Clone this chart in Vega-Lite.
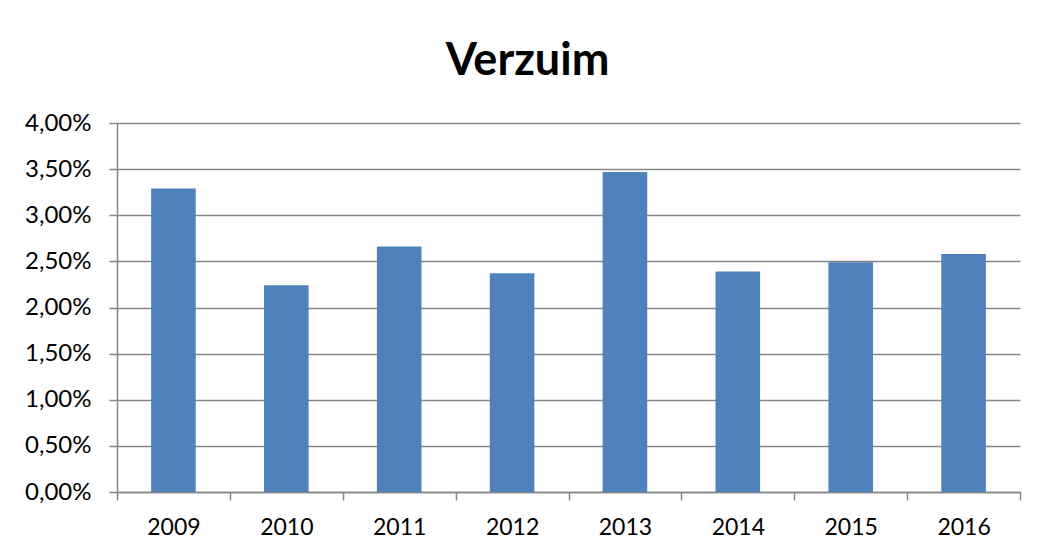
{
  "$schema": "https://vega.github.io/schema/vega-lite/v6.json",
  "width": 903,
  "height": 369,
  "autosize": {"type": "none"},
  "padding": {"left": 117, "top": 123, "right": 17, "bottom": 60},
  "background": "white",
  "title": {
    "text": "Verzuim",
    "font": "Lato",
    "fontSize": 45,
    "fontWeight": "bold",
    "color": "#000000",
    "anchor": "middle",
    "dx": -41,
    "offset": 27
  },
  "data": {
    "values": [
      {"jaar": "2009", "verzuim": 0.0329},
      {"jaar": "2010", "verzuim": 0.0224},
      {"jaar": "2011", "verzuim": 0.0266},
      {"jaar": "2012", "verzuim": 0.0237},
      {"jaar": "2013", "verzuim": 0.0347},
      {"jaar": "2014", "verzuim": 0.0239},
      {"jaar": "2015", "verzuim": 0.0249},
      {"jaar": "2016", "verzuim": 0.0258}
    ]
  },
  "mark": {"type": "bar", "color": "#4F81BD", "width": {"band": 0.395}},
  "encoding": {
    "x": {
      "field": "jaar",
      "type": "nominal",
      "title": null,
      "scale": {"paddingInner": 0, "paddingOuter": 0},
      "axis": {
        "labelAngle": 0,
        "labelFont": "Lato",
        "labelFontSize": 23,
        "labelColor": "#000000",
        "labelPadding": 16,
        "tickBand": "extent",
        "tickSize": 8,
        "tickColor": "#868686",
        "domainColor": "#868686",
        "domainWidth": 1.5,
        "tickWidth": 1.5
      }
    },
    "y": {
      "field": "verzuim",
      "type": "quantitative",
      "title": null,
      "scale": {"domain": [0, 0.04], "nice": false},
      "axis": {
        "values": [0, 0.005, 0.01, 0.015, 0.02, 0.025, 0.03, 0.035, 0.04],
        "labelExpr": "replace(format(datum.value, '.2%'), '.', ',')",
        "labelFont": "Lato",
        "labelFontSize": 24,
        "labelColor": "#000000",
        "labelPadding": 18,
        "tickSize": 8,
        "tickColor": "#868686",
        "tickWidth": 1.5,
        "domainColor": "#868686",
        "domainWidth": 1.5,
        "grid": true,
        "gridColor": "#868686",
        "gridWidth": 1.5
      }
    }
  },
  "config": {"view": {"stroke": null}}
}
